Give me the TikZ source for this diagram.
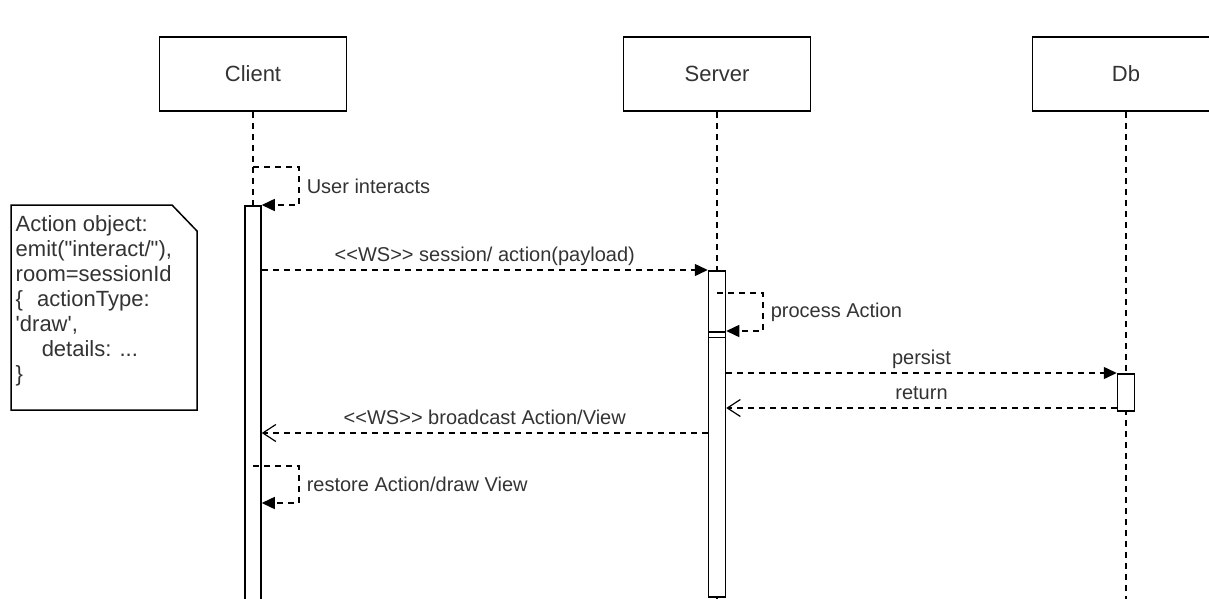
\documentclass[tikz,border=0pt]{standalone}
\usepackage{fontspec}
\newfontfamily\drawfont{Liberation Sans}
\usetikzlibrary{arrows.meta}

\begin{document}
\begin{tikzpicture}[x=1pt, y=-1pt, line width=1.5pt,
  every node/.style={font=\drawfont, text=black!80},
  head/.style={draw, minimum width=187pt, minimum height=74pt, font=\drawfont\fontsize{22}{26}\selectfont},
  life/.style={line width=1.2pt, dash pattern=on 6pt off 5pt},
  actbar/.style={draw, fill=white, minimum width=17pt, inner sep=0pt, anchor=north},
  call/.style={dash pattern=on 6pt off 5pt, -{Triangle[length=13pt,width=12pt]}},
  reply/.style={dash pattern=on 6pt off 5pt, -{Straight Barb[length=13pt,width=17pt,line width=1.2pt]}},
  msglabel/.style={anchor=base, yshift=9pt, inner sep=0pt, font=\drawfont\fontsize{20}{24}\selectfont},
  sidelabel/.style={anchor=west, xshift=7pt, inner sep=0pt, font=\drawfont\fontsize{20}{24}\selectfont}]
 \clip (0,0) rectangle (1209,599);
 % lifelines
 \node[head] (client) at (253,74) {Client};
 \node[head] (server) at (717,74) {Server};
 \node[head] (db) at (1126,74) {Db};
 \coordinate (bottom) at (0,610);
 \draw[life] (client.south) -- (client.south |- bottom);
 \draw[life] (server.south) -- (server.south |- bottom);
 \draw[life] (db.south) -- (db.south |- bottom);
 % activations
 \node[actbar, minimum width=16pt, minimum height=420pt] (cbar) at (253,205) {};
 \node[actbar, minimum height=66pt] (sbar) at (717,270) {};
 \node[actbar, minimum height=265pt] (sbar2) at (717,331) {};
 \draw (sbar.south west) -- (sbar.south east);
 \node[actbar, minimum height=37pt] (dbar) at (1126,373) {};
 % note
 \draw[fill=white] (11,205) -- (172,205) -- (197,231) -- (197,410) -- (11,410) -- cycle;
 \node[anchor=north west, align=left, inner sep=0pt, font=\drawfont\fontsize{22}{25}\selectfont] (note) at (15,215)
  {Action object:\\emit("interact/"),\\room=sessionId\\\{\hspace{14pt}actionType:\\'draw',\\\hspace{26pt}details: ...\\\}};
 % messages
 \coordinate (t1) at (0,167);
 \coordinate (t2) at (0,293);
 \coordinate (t3) at (0,408);
 \coordinate (t4) at (0,433);
 \coordinate (t5) at (0,466);
 \coordinate (t6) at (0,503);
 \draw[call] (client.south |- t1) -- ++(46,0) |- (cbar.north east) node[sidelabel,pos=0.25] (l0) {User interacts};
 \draw[call] (cbar.east |- sbar.north) -- (sbar.north west) node[msglabel,midway] (l1) {<<WS>> session/ action(payload)};
 \draw[call] (sbar.north |- t2) -- ++(46,0) |- (sbar2.north east) node[sidelabel,pos=0.25] (l2) {process Action};
 \draw[call] (sbar2.east |- dbar.north) -- (dbar.north west) node[msglabel,midway] (l3) {persist};
 \draw[reply] (dbar.west |- t3) -- (sbar2.east |- t3) node[msglabel,midway] (l4) {return};
 \draw[reply] (sbar2.west |- t4) -- (cbar.east |- t4) node[msglabel,midway] (l5) {<<WS>> broadcast Action/View};
 \draw[call] (client.south |- t5) -- ++(46,0) |- (cbar.east |- t6) node[sidelabel,pos=0.25] (l6) {restore Action/draw View};
\end{tikzpicture}
\end{document}
